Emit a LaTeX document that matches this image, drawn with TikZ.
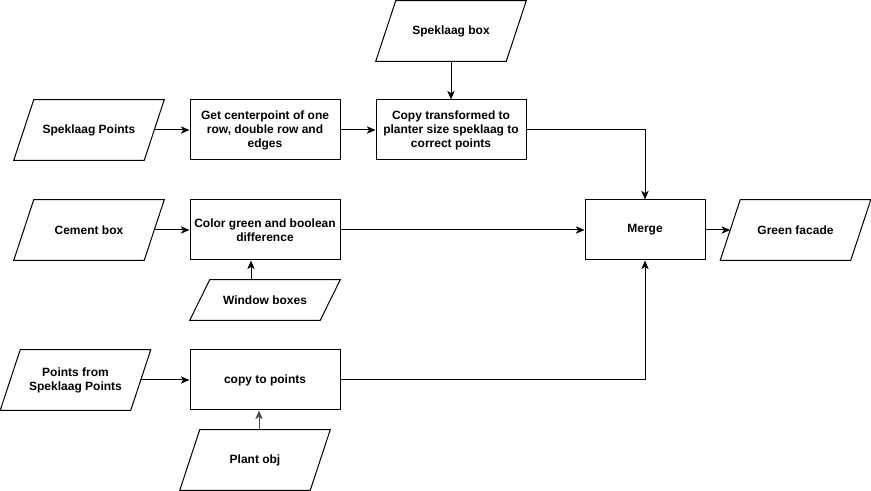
\documentclass[tikz,border=0pt]{standalone}
\usepackage{fontspec}
\setmainfont{Liberation Sans}
\usetikzlibrary{arrows.meta,calc}
\newcommand\parashape[1]{\draw[line width=0.75pt] ([xshift=15pt]#1.north west) -- (#1.north east) -- ([xshift=-15pt]#1.south east) -- (#1.south west) -- cycle;}
\begin{document}
\begin{tikzpicture}[x=0.75pt,y=-0.75pt,
  every node/.style={font=\bfseries\fontsize{9pt}{10.5pt}\selectfont, align=center, inner sep=0pt},
  procbox/.style={draw, line width=0.75pt, minimum width=112.5pt, minimum height=45pt},
  iobox/.style={minimum width=112.5pt, minimum height=45pt},
  conn/.style={line width=0.75pt, -{Stealth[length=6.5pt,width=5.5pt,inset=1.8pt]}}]
\useasboundingbox (0,0) rectangle (871,491);
% input/output shapes
\node[iobox] (spbox) at (451,31) {Speklaag box};
\node[iobox] (sp) at (89,130) {Speklaag Points};
\node[iobox] (cb) at (89,230) {Cement box};
\node[iobox] (gf) at (795.5,230) {Green facade};
\node[iobox, minimum height=30pt] (wb) at (265,300) {Window boxes};
\node[iobox] (pf) at (75.5,380) {Points from\\Speklaag Points};
\node[iobox] (po) at (255,460) {Plant obj};
\parashape{spbox}\parashape{sp}\parashape{cb}\parashape{gf}\parashape{wb}\parashape{pf}\parashape{po}
% process boxes
\node[procbox] (gc) at (265,130) {Get centerpoint of one\\row, double row and\\edges};
\node[procbox] (ct) at (451,130) {Copy transformed to\\planter size speklaag to\\correct points};
\node[procbox] (cg) at (265,230) {Color green and boolean\\difference};
\node[procbox, minimum width=90pt] (merge) at (645,230) {Merge};
\node[procbox] (ctp) at (265,380) {copy to points};
% connectors
\draw[conn] ([xshift=-7.5pt]sp.east) -- (gc.west);
\draw[conn] (gc.east) -- (ct.west);
\draw[conn] (spbox.south) -- (ct.north);
\draw[conn] (ct.east) -| (merge.north);
\draw[conn] ([xshift=-7.5pt]cb.east) -- (cg.west);
\draw[conn] (cg.east) -- (merge.west);
\coordinate (wbt) at ([xshift=-10.5pt]wb.north);
\draw[conn] (wbt) -- (wbt |- cg.south);
\draw[conn] ([xshift=-7.5pt]pf.east) -- (ctp.west);
\coordinate (pot) at ([xshift=3pt]po.north);
\draw[conn, draw=black!70, fill=black] (pot) -- (pot |- ctp.south);
\draw[conn] (ctp.east) -| (merge.south);
\draw[conn] (merge.east) -- ([xshift=7.5pt]gf.west);
\end{tikzpicture}
\end{document}
